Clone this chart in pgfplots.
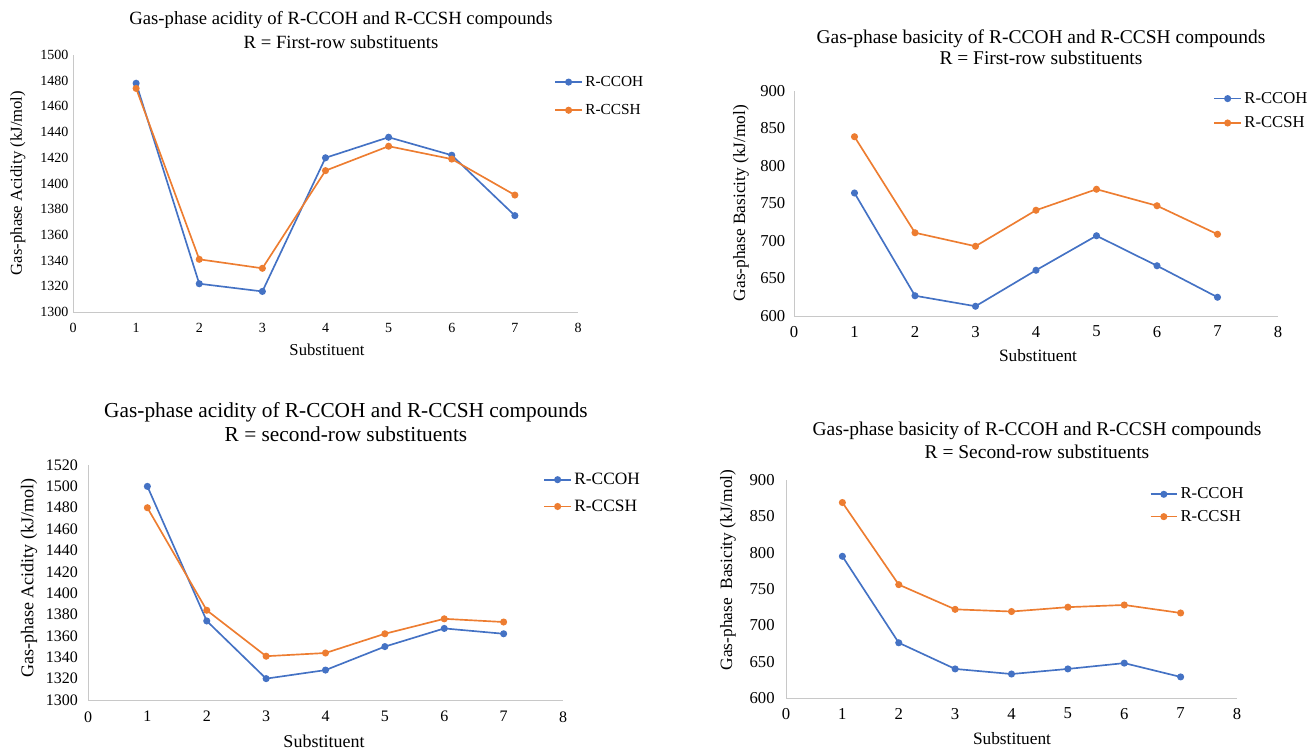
\documentclass[border=0pt]{standalone}
\usepackage{pgfplots}
\pgfplotsset{compat=1.18}
\usepackage{fontspec}
\setmainfont{Liberation Serif}
\definecolor{cblue}{RGB}{68,114,196}
\definecolor{corange}{RGB}{237,125,49}
\definecolor{axgray}{RGB}{200,200,200}
\pgfplotsset{
  chart/.style={
    scale only axis,
    axis x line=bottom, axis y line=left,
    axis line style={draw=axgray,-,line width=0.6pt},
    xmin=0, xmax=8, xtick={0,1,...,8},
    major tick length=0pt,
    /pgf/number format/assume math mode=true,
    /pgf/number format/1000 sep={},
    legend cell align=left,
    legend style={draw=none, fill=none, anchor=north west, row sep=3pt,
      /tikz/every even column/.append style={column sep=0pt}},
    legend image code/.code={
      \draw[mark repeat=2,mark phase=2] plot coordinates {(0cm,0cm) (0.35cm,0cm) (0.7cm,0cm)};},
  },
  sblue/.style={color=cblue, line width=1.25pt, mark=*, mark size=2pt, mark options={solid}},
  sorange/.style={color=corange, line width=1.25pt, mark=*, mark size=2pt, mark options={solid}},
}
\begin{document}
\begin{tikzpicture}[x=0.75pt,y=0.75pt]
\path[use as bounding box] (0,0) rectangle (1311,750);
\coordinate (p1) at (73,438);
\coordinate (p2) at (794,434);
\coordinate (p3) at (88,50);
\coordinate (p4) at (786,52);
% ---------- Panel 1
\begin{axis}[chart, at={(p1)}, anchor=south west,
  width=378.75pt, height=192.75pt,
  ymin=1300, ymax=1500, ytick={1300,1320,...,1500},
  tick label style={font=\fontsize{10.5}{12}\selectfont},
  x tick label style={yshift=-5pt},
  legend style={at={(0.945,0.94)}, font=\fontsize{11.5}{13}\selectfont, row sep=8pt}]
\addplot[sblue] coordinates {(1,1478) (2,1322) (3,1316) (4,1420) (5,1436) (6,1422) (7,1375)};
\addlegendentry{R-CCOH}
\addplot[sorange] coordinates {(1,1474) (2,1341) (3,1334) (4,1410) (5,1429) (6,1419) (7,1391)};
\addlegendentry{R-CCSH}
\end{axis}
\node[align=center, font=\fontsize{14}{18}\selectfont] at (341,720) {Gas-phase acidity of R-CCOH and R-CCSH compounds\\R = First-row substituents};
\node[font=\fontsize{12.5}{14}\selectfont] at (327,400) {Substituent};
\node[rotate=90, font=\fontsize{12.5}{14}\selectfont] at (18,567) {Gas-phase Acidity (kJ/mol)};
% ---------- Panel 2
\begin{axis}[chart, at={(p2)}, anchor=south west,
  width=363pt, height=168.75pt,
  ymin=600, ymax=900, ytick={600,650,...,900},
  tick label style={font=\fontsize{12.5}{14}\selectfont},
  x tick label style={yshift=-4pt},
  y tick label style={xshift=-3pt},
  legend style={at={(0.858,1.02)}, font=\fontsize{12.5}{14}\selectfont, row sep=4.5pt}]
\addplot[sblue] coordinates {(1,764) (2,627) (3,613) (4,661) (5,707) (6,667) (7,625)};
\addlegendentry{R-CCOH}
\addplot[sorange] coordinates {(1,839) (2,711) (3,693) (4,741) (5,769) (6,747) (7,709)};
\addlegendentry{R-CCSH}
\end{axis}
\node[align=center, font=\fontsize{14.6}{16}\selectfont] at (1041,702.5) {Gas-phase basicity of R-CCOH and R-CCSH compounds\\R = First-row substituents};
\node[font=\fontsize{13}{15}\selectfont] at (1038,394) {Substituent};
\node[rotate=90, font=\fontsize{13}{15}\selectfont] at (741,547) {Gas-phase Basicity (kJ/mol)};
% ---------- Panel 3
\begin{axis}[chart, at={(p3)}, anchor=south west,
  width=356.25pt, height=176.25pt,
  ymin=1300, ymax=1520, ytick={1300,1320,...,1520},
  tick label style={font=\fontsize{12}{14}\selectfont},
  x tick label style={yshift=-5pt},
  y tick label style={xshift=-4pt},
  legend style={at={(0.95,0.99)}, font=\fontsize{13}{15}\selectfont, row sep=6pt}]
\addplot[sblue] coordinates {(1,1500) (2,1374) (3,1320) (4,1328) (5,1350) (6,1367) (7,1362)};
\addlegendentry{R-CCOH}
\addplot[sorange] coordinates {(1,1480) (2,1384) (3,1341) (4,1344) (5,1362) (6,1376) (7,1373)};
\addlegendentry{R-CCSH}
\end{axis}
\node[align=center, font=\fontsize{16}{18}\selectfont] at (346,328) {Gas-phase acidity of R-CCOH and R-CCSH compounds\\R = second-row substituents};
\node[font=\fontsize{13.5}{15}\selectfont] at (324,9) {Substituent};
\node[rotate=90, font=\fontsize{13.5}{15}\selectfont] at (29,172) {Gas-phase Acidity (kJ/mol)};
% ---------- Panel 4
\begin{axis}[chart, at={(p4)}, anchor=south west,
  width=338.25pt, height=163.5pt,
  ymin=600, ymax=900, ytick={600,650,...,900},
  tick label style={font=\fontsize{12.5}{14}\selectfont},
  x tick label style={yshift=-4pt},
  y tick label style={xshift=-5pt},
  legend style={at={(0.797,0.99)}, font=\fontsize{12.5}{14}\selectfont}]
\addplot[sblue] coordinates {(1,795) (2,676) (3,640) (4,633) (5,640) (6,648) (7,629)};
\addlegendentry{R-CCOH}
\addplot[sorange] coordinates {(1,869) (2,756) (3,722) (4,719) (5,725) (6,728) (7,717)};
\addlegendentry{R-CCSH}
\end{axis}
\node[align=center, font=\fontsize{14.6}{17}\selectfont] at (1037,309.5) {Gas-phase basicity of R-CCOH and R-CCSH compounds\\R = Second-row substituents};
\node[font=\fontsize{13}{15}\selectfont] at (1012,11) {Substituent};
\node[rotate=90, font=\fontsize{13}{15}\selectfont] at (728,180) {Gas-phase\ \ Basicity (kJ/mol)};
\end{tikzpicture}
\end{document}
